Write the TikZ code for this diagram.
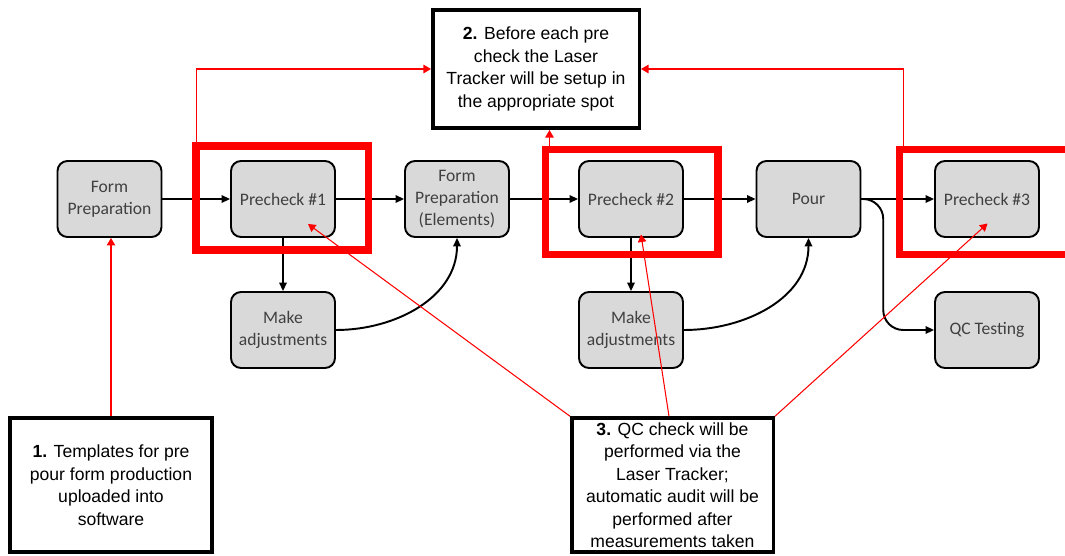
\documentclass[tikz,border=0pt]{standalone}
\usepackage{fontspec}
\setmainfont{Liberation Sans}
\newfontfamily\boxfont{Carlito}
\usepackage{tikz}
\usetikzlibrary{
    calc,
    positioning,
    arrows.meta,
    shapes
}

\begin{document}
\begin{tikzpicture}[
    box/.style={
    	draw,
    	line width=1.1pt,
    	rounded corners=2mm,
    	fill=g1,
    	text=g4,
    	minimum width=2.08cm,
    	minimum height=1.52cm,
    	align=center,
    	anchor=center,
    	font=\boxfont\fontsize{10}{12.5}\selectfont
    },
    note/.style={
        draw,
        line width=2pt,
        inner sep=0pt,
        align=center,
        anchor=center,
        font=\fontsize{10}{12.8}\selectfont
    },
    highlight/.style={
        draw=red,
        line width=0.15cm,
        inner sep=0pt,
        anchor=center
    },
    flow/.style={
        line width=1.1pt,
        -{Triangle[length=1.7mm,width=1.5mm]}
    },
    link/.style={
        red,
        line width=0.6pt,
        -{Triangle[length=1.5mm,width=1.7mm]}
    }]
    \definecolor{g1}{RGB}{217, 217, 217}
    \definecolor{g4}{RGB}{64, 64, 64}

    \useasboundingbox (0,0) rectangle (21.3,11.1);

    \node[box] (prep) at (2.19,7.12) {Form\\Preparation};
    \node[box] (chk1) at (5.66,7.12) {Precheck \#1};
    \node[box] (prepel) at (9.14,7.12) {Form\\Preparation\\(Elements)};
    \node[box] (chk2) at (12.62,7.12) {Precheck \#2};
    \node[box] (pour) at (16.17,7.12) {Pour};
    \node[box] (chk3) at (19.74,7.12) {Precheck \#3};

    \node[box] (adj1) at (5.66,4.5) {Make\\adjustments};
    \node[box] (adj2) at (12.62,4.5) {Make\\adjustments};
    \node[box] (qc) at (19.74,4.5) {QC Testing};

    \node[note, minimum width=4.03cm, minimum height=2.68cm] (note1) at (2.22,1.4)
        {\textbf{1.} Templates for pre\\pour form production\\uploaded into\\software};
    \node[note, minimum width=4.13cm, minimum height=2.37cm] (note2) at (10.72,9.72)
        {\textbf{2.} Before each pre\\check the Laser\\Tracker will be setup in\\the appropriate spot};
    \node[note, minimum width=4.03cm, minimum height=2.68cm] (note3) at (13.45,1.4)
        {\textbf{3.} QC check will be\\performed via the\\Laser Tracker;\\automatic audit will be\\performed after\\measurements taken};

    \draw[flow] (prep) -- (chk1);
    \draw[flow] (chk1) -- (prepel);
    \draw[flow] (prepel) -- (chk2);
    \draw[flow] (chk2) -- (pour);
    \draw[flow] (pour) -- (chk3);
    \draw[flow] (chk1) -- (adj1);
    \draw[flow] (chk2) -- (adj2);
    \draw[flow] (adj1.east) to[out=0,in=-90] (prepel.south);
    \draw[flow] (adj2.east) to[out=0,in=-90] (pour.south);
    \draw[flow, rounded corners=4mm] (pour.east) -| ($(pour.east)!0.3!(qc.west)$) |- (qc.west);

    \node[highlight, minimum width=3.45cm, minimum height=2.08cm] (hl1) at (5.64,7.14) {};
    \node[highlight, minimum width=3.45cm, minimum height=2.1cm] (hl2) at (12.63,7.06) {};
    \node[highlight, minimum width=4.0cm, minimum height=2.1cm] (hl3) at (19.99,7.06) {};

    \coordinate (t1) at ([xshift=0.9mm]hl1.north west);
    \coordinate (t2) at ([xshift=1.6mm]hl2.north west);
    \coordinate (t3) at ([xshift=1.6mm]hl3.north west);

    \draw[link] (note1.north) -- (note1.north |- prep.south);
    \draw[link] (t1) |- (note2.west);
    \draw[link] (t3) |- (note2.east);
    \draw[link] (t2) -- (t2 |- note2.south);
    \draw[link] (note3.north west) -- ($(chk1)+(0.5,-0.5)$);
    \draw[link] ([xshift=-0.07cm]note3.north) -- ($(chk2)+(0.2,-0.71)$);
    \draw[link] (note3.north east) -- ($(chk3)+(0.01,-0.49)$);

\end{tikzpicture}
\end{document}
